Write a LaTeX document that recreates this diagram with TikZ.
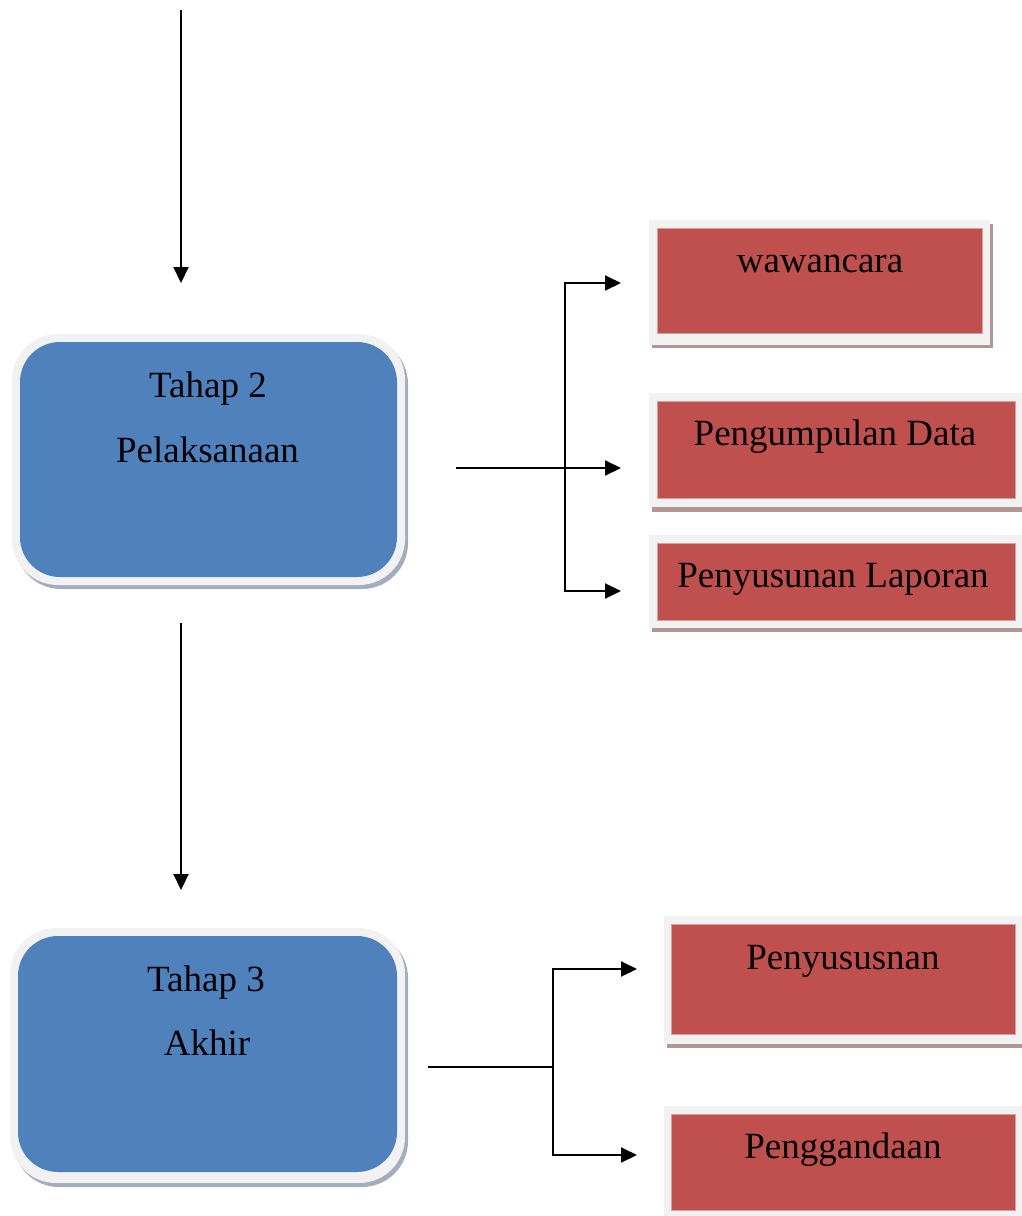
\documentclass[tikz,border=0pt]{standalone}
\usepackage{fontspec}
\setmainfont{Liberation Serif}
\usetikzlibrary{arrows.meta}
\definecolor{myblue}{HTML}{4F81BD}
\definecolor{myred}{HTML}{C0504D}
\definecolor{lgray}{HTML}{F2F2F2}
\definecolor{bshad}{HTML}{A3ADBB}
\definecolor{rshad}{HTML}{B59495}
\definecolor{redline}{HTML}{D9A0A0}
\tikzset{
  lbl/.style={font=\fontsize{37}{44}\selectfont, anchor=base, inner sep=0pt, text=black},
  arr/.style={line width=2pt, -{Triangle[length=16pt,width=15pt]}},
  ln/.style={line width=2pt},
  bshadow/.style={fill=bshad, rounded corners=46pt},
  bouter/.style={fill=lgray, rounded corners=46pt},
  binner/.style={fill=myblue, rounded corners=40pt, inner sep=0pt},
  rshadow/.style={fill=rshad},
  router/.style={fill=lgray},
  rinner/.style={fill=myred, draw=redline, line width=0.8pt, inner sep=0pt},
}
\begin{document}
\begin{tikzpicture}[x=1pt,y=-1pt]
\useasboundingbox (0,0) rectangle (1022,1216);
% ---------- blue box 1
\path[bshadow] (15,338) rectangle (408,589);
\path[bouter] (12,334) rectangle (405,585);
\node[binner, minimum width=377pt, minimum height=235pt] (b1) at (208.5,459.5) {};
\node[lbl] (b1t1) at (208,397) {Tahap 2};
\node[lbl] (b1t2) at (207.5,462) {Pelaksanaan};
% ---------- blue box 2
\path[bshadow] (13,932) rectangle (408,1187);
\path[bouter] (10,928) rectangle (405,1183);
\node[binner, minimum width=379pt, minimum height=236pt] (b2) at (207.5,1054) {};
\node[lbl] (b2t1) at (206,991) {Tahap 3};
\node[lbl] (b2t2) at (207,1055) {Akhir};
% ---------- red boxes
\path[rshadow] (652,224) rectangle (993,348);
\path[router] (649,220) rectangle (990,345);
\node[rinner, minimum width=325pt, minimum height=105pt] (r1) at (819.5,280.5) {};
\node[lbl] (r1t) at (820,272) {wawancara};

\path[rshadow] (652,397) rectangle (1022,512);
\path[router] (649,393) rectangle (1022,507);
\node[rinner, minimum width=358pt, minimum height=97pt] (r2) at (836,449.5) {};
\node[lbl] (r2t) at (835,445) {Pengumpulan Data};

\path[rshadow] (652,539) rectangle (1022,632);
\path[router] (649,535) rectangle (1022,628);
\node[rinner, minimum width=358pt, minimum height=77pt] (r3) at (836,581.5) {};
\node[lbl] (r3t) at (833,587) {Penyusunan Laporan};

\path[rshadow] (667,920) rectangle (1022,1048);
\path[router] (664,916) rectangle (1022,1044);
\node[rinner, minimum width=344pt, minimum height=110pt] (r4) at (843,979) {};
\node[lbl] (r4t) at (843,969) {Penyususnan};

\path[router] (664,1106) rectangle (1022,1216);
\node[rinner, minimum width=344pt, minimum height=96pt] (r5) at (843,1162) {};
\node[lbl] (r5t) at (843,1158) {Penggandaan};
% ---------- connectors
\coordinate (top0) at (181,10);
\coordinate (top1) at (181,283);
\draw[arr] (top0) -- (top1);

\coordinate (mid0) at (181,623);
\coordinate (mid1) at (181,890);
\draw[arr] (mid0) -- (mid1);

\coordinate (s1) at (456,468);
\coordinate (j1) at (565,468);
\coordinate (j1a) at (565,283);
\coordinate (j1c) at (565,591);
\coordinate (e1a) at (621,283);
\coordinate (e1b) at (621,468);
\coordinate (e1c) at (621,591);
\draw[ln] (s1) -- (j1);
\draw[arr] (j1) -- (e1b);
\draw[arr] (j1) -- (j1a) -- (e1a);
\draw[arr] (j1) -- (j1c) -- (e1c);

\coordinate (s2) at (428,1067);
\coordinate (j2) at (553,1067);
\coordinate (j2a) at (553,969);
\coordinate (j2b) at (553,1155);
\coordinate (e2a) at (637,969);
\coordinate (e2b) at (637,1155);
\draw[ln] (s2) -- (j2);
\draw[arr] (j2) -- (j2a) -- (e2a);
\draw[arr] (j2) -- (j2b) -- (e2b);
\end{tikzpicture}
\end{document}
